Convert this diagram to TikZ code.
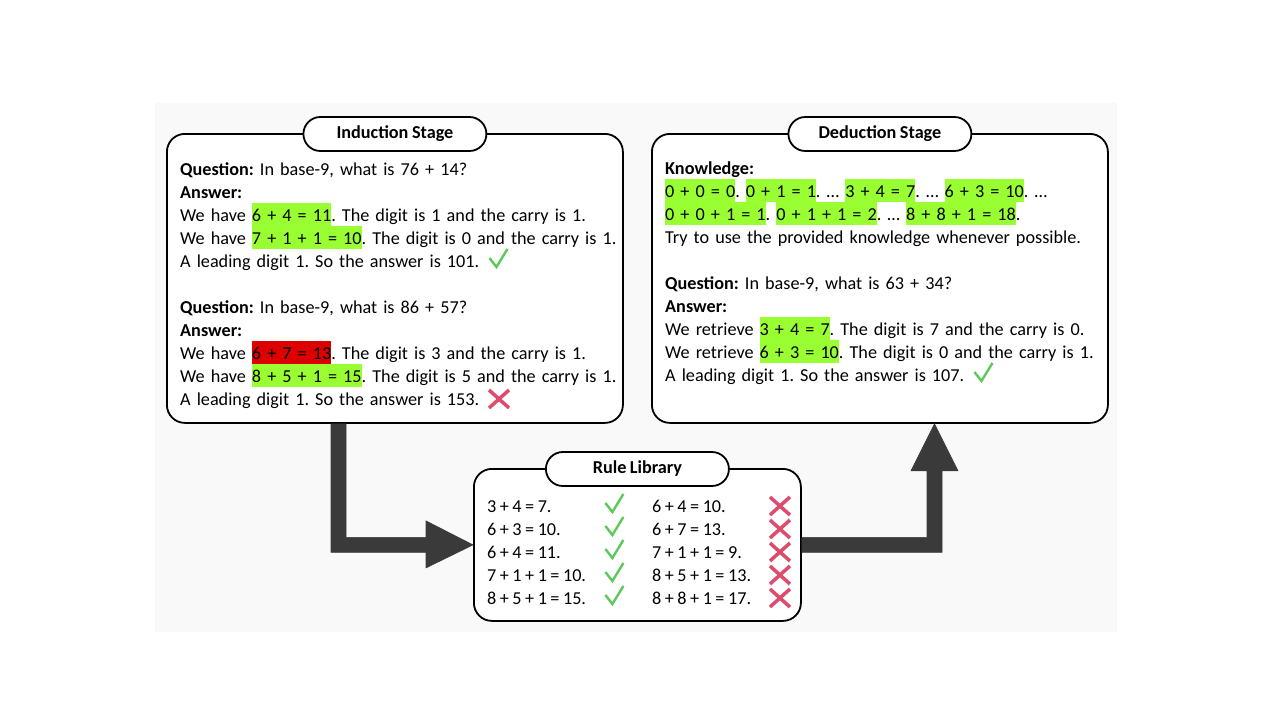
\documentclass[tikz,border=0pt]{standalone}
\usepackage{fontspec}
\setmainfont{Carlito}[WordSpace=0.85]
\usetikzlibrary{calc}

\definecolor{panelbg}{HTML}{F9F9F9}
\definecolor{hlgreen}{HTML}{99FF33}
\definecolor{hlred}{HTML}{DD0000}
\definecolor{okgreen}{HTML}{5CC95C}
\definecolor{badred}{HTML}{DD4C6C}
\definecolor{flow}{HTML}{3A3A3A}

% highlighted formulas: a full line-height colour band behind the text
\newcommand\hlg[1]{{\setlength\fboxsep{0pt}\colorbox{hlgreen}{\rule[-5pt]{0pt}{23pt}#1}}}
\newcommand\hlr[1]{{\setlength\fboxsep{0pt}\colorbox{hlred}{\rule[-5pt]{0pt}{23pt}#1}}}
% tick and cross marks
\newcommand\okmark{\tikz[baseline=0pt]\draw[okgreen,line width=2.4pt,x=1pt,y=1pt] (0,9) -- (7,0) -- (18,18);}
\newcommand\badmark{\tikz[baseline=0pt]\draw[badred,line width=3.5pt,x=1pt,y=1pt] (0,-3) -- (20,15) (0,15) -- (20,-3);}
\newcommand\bodyfont{\fontsize{18.2}{23}\selectfont\frenchspacing\lineskiplimit=-100pt\lineskip=0pt}

\begin{document}
\frenchspacing
\begin{tikzpicture}[x=1pt,y=-1pt,
  stagebox/.style={draw,line width=1.8pt,fill=white,rounded corners=18pt,anchor=north west,inner sep=0pt},
  pill/.style={draw,line width=1.8pt,fill=white,rounded corners=17pt,minimum width=183pt,minimum height=34pt,inner sep=0pt,font=\bodyfont\bfseries},
  textblock/.style={anchor=base west,inner sep=0pt,text width=470pt,align=left,font=\bodyfont},
  ruleline/.style={anchor=base west,inner sep=0pt,font=\bodyfont},
  flowarrow/.style={fill=flow,draw=flow,line width=0.6pt,line join=miter}]
\useasboundingbox (0,0) rectangle (1280,720);
\fill[panelbg] (155,103) rectangle (1117,632);

% the three panels
\node[stagebox,minimum width=456pt,minimum height=289pt] (induct) at (166,133) {};
\node[stagebox,minimum width=456pt,minimum height=289pt] (deduct) at (651,133) {};
\node[stagebox,minimum width=327pt,minimum height=152pt] (rules) at (473,468) {};

\node[pill] (inductTitle) at ($(induct.north)+(0,1)$) {Induction Stage};
\node[pill] (deductTitle) at ($(deduct.north)+(0,1)$) {Deduction Stage};
\node[pill] (rulesTitle) at ($(rules.north)+(0,1)$) {Rule Library};

% induction stage
\node[textblock] (inductText) at (180,175) {\bodyfont
\textbf{Question:} In base-9, what is 76 + 14?\\
\textbf{Answer:}\\
We have \hlg{6 + 4 = 11}. The digit is 1 and the carry is 1.\\
We have \hlg{7 + 1 + 1 = 10}. The digit is 0 and the carry is 1.\\
A leading digit 1. So the answer is 101.\hspace{9pt}\okmark\\[23pt]
\textbf{Question:} In base-9, what is 86 + 57?\\
\textbf{Answer:}\\
We have \hlr{6 + 7 = 13}. The digit is 3 and the carry is 1.\\
We have \hlg{8 + 5 + 1 = 15}. The digit is 5 and the carry is 1.\\
A leading digit 1. So the answer is 153.\hspace{8pt}\badmark};

% deduction stage
\node[textblock] (deductText) at (665,174) {\bodyfont
\textbf{Knowledge:}\\
\hlg{0 + 0 = 0}. \hlg{0 + 1 = 1}. \dots\ \hlg{3 + 4 = 7}. \dots\ \hlg{6 + 3 = 10}. \dots\\
\hlg{0 + 0 + 1 = 1}. \hlg{0 + 1 + 1 = 2}. \dots\ \hlg{8 + 8 + 1 = 18}.\\
Try to use the provided knowledge whenever possible.\\[23pt]
\textbf{Question:} In base-9, what is 63 + 34?\\
\textbf{Answer:}\\
We retrieve \hlg{3 + 4 = 7}. The digit is 7 and the carry is 0.\\
We retrieve \hlg{6 + 3 = 10}. The digit is 0 and the carry is 1.\\
A leading digit 1. So the answer is 107.\hspace{9pt}\okmark};

% rule library: accepted rules on the left, rejected rules on the right
\node[ruleline] (r1) at (487,512) {3 + 4 = 7.};
\node[ruleline] (r2) at (487,535) {6 + 3 = 10.};
\node[ruleline] (r3) at (487,558) {6 + 4 = 11.};
\node[ruleline] (r4) at (487,581) {7 + 1 + 1 = 10.};
\node[ruleline] (r5) at (487,604) {8 + 5 + 1 = 15.};
\node[ruleline] (w1) at (652,512) {6 + 4 = 10.};
\node[ruleline] (w2) at (652,535) {6 + 7 = 13.};
\node[ruleline] (w3) at (652,558) {7 + 1 + 1 = 9.};
\node[ruleline] (w4) at (652,581) {8 + 5 + 1 = 13.};
\node[ruleline] (w5) at (652,604) {8 + 8 + 1 = 17.};
\foreach \yy [count=\i] in {512,535,558,581,604}{
  \node[ruleline] (ok\i) at (604,\yy) {\okmark};
  \node[ruleline] (bad\i) at (768,\yy) {\badmark};
}

% flow arrows: induction -> rule library -> deduction
\fill[flowarrow]
  ($(induct.south west)+(165,0)$) -- ($(induct.south west)+(180,0)$)
  |- ($(rules.west)+(-47,-7.5)$) -- ($(rules.west)+(-47,-24)$)
  -- (rules.west) -- ($(rules.west)+(-47,23)$) -- ($(rules.west)+(-47,7.5)$)
  -| cycle;
\fill[flowarrow]
  ($(rules.east)+(0,-7.5)$) -| ($(deduct.south west)+(276,47)$)
  -- ($(deduct.south west)+(260,47)$) -- ($(deduct.south west)+(283.5,0)$)
  -- ($(deduct.south west)+(307,47)$) -- ($(deduct.south west)+(291,47)$)
  |- ($(rules.east)+(0,7.5)$) -- cycle;
\end{tikzpicture}
\end{document}
